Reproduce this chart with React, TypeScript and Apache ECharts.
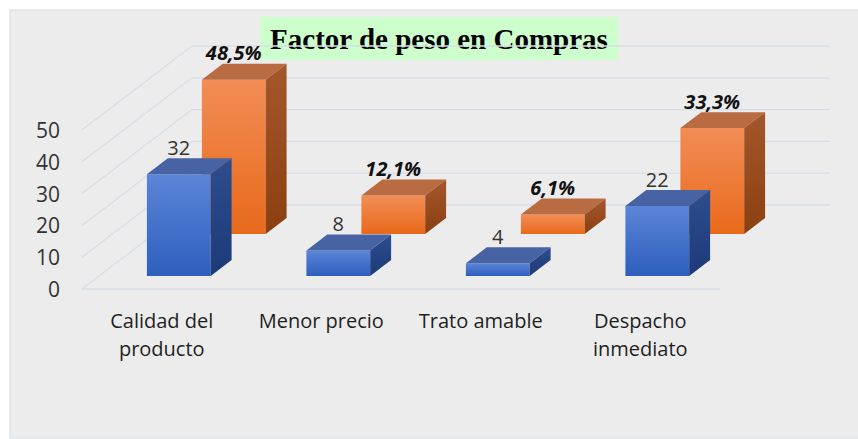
import React, { useEffect, useRef } from "react";
import * as echarts from "echarts";

const categories = ["Calidad del\nproducto", "Menor precio", "Trato amable", "Despacho\ninmediato"];
const countValues = [32, 8, 4, 22];
const percentValues = [48.5, 12.1, 6.1, 33.3];
const yTicks = [0, 10, 20, 30, 40, 50];
const titleText = "Factor de peso en Compras";

// 3D projection (pixels for full depth)
const DX = 110;
const DY = 84;
const BAR_DEPTH = 0.19;
const BLUE_ROW = 0.155;
const ORANGE_ROW = 0.655;

const FONT = "'Open Sans', 'Noto Sans', sans-serif";

const lg = (a: string, b: string) =>
  new echarts.graphic.LinearGradient(0, 0, 0, 1, [
    { offset: 0, color: a },
    { offset: 1, color: b },
  ]);

function makeBarRenderer(
  rowFrac: number,
  colors: { front: [string, string]; side: [string, string]; top: string },
  labelFn: (v: number) => string,
  labelStyle: any
) {
  return (params: any, api: any) => {
    const i = api.value(0);
    const v = api.value(1);
    const base = api.coord([i, 0]);
    const topPt = api.coord([i, v]);
    const w = api.size([1, 0])[0] * 0.4;
    const ox = rowFrac * DX;
    const oy = -rowFrac * DY;
    const cx = base[0] + ox;
    const xL = cx - w / 2;
    const xR = cx + w / 2;
    const yB = base[1] + oy;
    const yT = topPt[1] + oy;
    const bx = BAR_DEPTH * DX;
    const by = -BAR_DEPTH * DY;
    return {
      type: "group",
      children: [
        {
          type: "rect",
          shape: { x: xL, y: yT, width: w, height: yB - yT },
          style: { fill: lg(colors.front[0], colors.front[1]) },
        },
        {
          type: "polygon",
          shape: { points: [[xL, yT], [xR, yT], [xR + bx, yT + by], [xL + bx, yT + by]] },
          style: { fill: colors.top },
        },
        {
          type: "polygon",
          shape: { points: [[xR, yT], [xR + bx, yT + by], [xR + bx, yB + by], [xR, yB]] },
          style: { fill: lg(colors.side[0], colors.side[1]) },
        },
        {
          type: "text",
          style: {
            text: labelFn(v),
            x: cx,
            y: yT + by - 1,
            align: "center",
            verticalAlign: "bottom",
            ...labelStyle,
          },
        },
      ],
    };
  };
}

export default function App() {
  const ref = useRef<HTMLDivElement>(null);
  useEffect(() => {
    if (!ref.current) return;
    const chart = echarts.init(ref.current, null, { renderer: "svg" });

    const gridRender = (params: any, api: any) => {
      const v = api.value(1);
      const y = api.coord([0, v])[1];
      const cs = params.coordSys;
      const x0 = cs.x;
      const x1 = cs.x + cs.width;
      const st = { stroke: "#d8dee7", lineWidth: 1.3 };
      const children: any[] = [
        { type: "line", shape: { x1: x0, y1: y, x2: x0 + DX, y2: y - DY }, style: st },
        { type: "line", shape: { x1: x0 + DX, y1: y - DY, x2: x1 + DX, y2: y - DY }, style: st },
      ];
      if (v === 0) {
        children.push({ type: "line", shape: { x1: x0, y1: y, x2: x1, y2: y }, style: st });
      }
      return { type: "group", children };
    };

    chart.setOption({
      animation: false,
      backgroundColor: "#ffffff",
      graphic: [
        {
          type: "rect",
          z: -10,
          shape: { x: 10, y: 10, width: 860, height: 428 },
          style: { fill: "#ececec", stroke: "#dfe3e8", lineWidth: 1.5 },
        },
        {
          type: "group",
          z: 100,
          children: [
            {
              type: "rect",
              shape: { x: 260, y: 17, width: 358, height: 43 },
              style: { fill: "#ccffcc" },
            },
            {
              type: "text",
              style: {
                text: titleText,
                x: 439,
                y: 39,
                align: "center",
                verticalAlign: "middle",
                fontFamily: "'Liberation Serif', 'DejaVu Serif', serif",
                fontWeight: "bold",
                fontSize: 29,
                fill: "#000000",
              },
            },
          ],
        },
      ],
      grid: { left: 82, right: 138, top: 130, bottom: 150 },
      xAxis: {
        type: "category",
        data: categories,
        axisLine: { show: false },
        axisTick: { show: false },
        splitLine: { show: false },
        axisLabel: {
          interval: 0,
          margin: 17,
          fontSize: 20,
          lineHeight: 28,
          color: "#1f1f1f",
          fontFamily: FONT,
        },
      },
      yAxis: {
        type: "value",
        min: 0,
        max: 50,
        interval: 10,
        axisLine: { show: false },
        axisTick: { show: false },
        splitLine: { show: false },
        axisLabel: { margin: 22, fontSize: 21, color: "#333333", fontFamily: FONT },
      },
      series: [
        {
          type: "custom",
          z: 1,
          silent: true,
          renderItem: gridRender,
          data: yTicks.map((t) => [0, t]),
        },
        {
          type: "custom",
          z: 2,
          renderItem: makeBarRenderer(
            ORANGE_ROW,
            { front: ["#f28d56", "#e8691a"], side: ["#a5572c", "#8b4010"], top: "#b96b42" },
            (v) => v.toFixed(1).replace(".", ",") + "%",
            { fontSize: 20, fontWeight: "bold", fontStyle: "italic", fontFamily: FONT, fill: "#111111" }
          ),
          data: percentValues.map((v, i) => [i, v]),
        },
        {
          type: "custom",
          z: 3,
          renderItem: makeBarRenderer(
            BLUE_ROW,
            { front: ["#5b85d7", "#2e5fbe"], side: ["#2d4d8e", "#1d3a78"], top: "#4863a3" },
            (v) => String(v),
            { fontSize: 20, fontFamily: FONT, fill: "#333333" }
          ),
          data: countValues.map((v, i) => [i, v]),
        },
      ],
    });
    return () => chart.dispose();
  }, []);
  return (
    <div
      ref={ref}
      style={{ position: "fixed", left: 0, top: 0, width: 858, height: 439 }}
    />
  );
}
